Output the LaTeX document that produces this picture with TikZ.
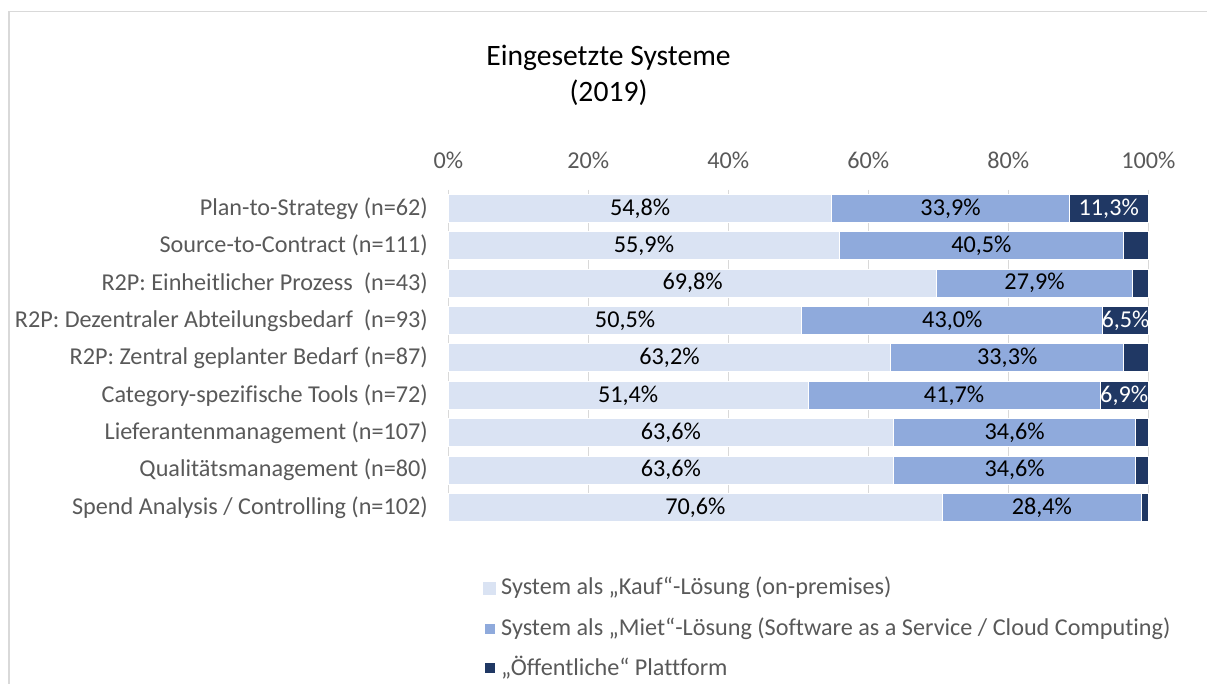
\documentclass[tikz,border=0pt]{standalone}
\usepackage{fontspec}
\setmainfont{Carlito}[Ligatures={TeX,NoCommon}]
\definecolor{cLight}{HTML}{DAE3F3}
\definecolor{cMid}{HTML}{8FAADC}
\definecolor{cDark}{HTML}{203864}
\definecolor{txtgray}{HTML}{595959}
\definecolor{gridgray}{HTML}{D9D9D9}
\newcommand\chartrow[6]{%
  \pgfmathsetmacro\yc{208.3+37.4*#1}%
  \pgfmathsetmacro\xa{448.3+7*#3}%
  \pgfmathsetmacro\xb{\xa+7*#4}%
  \draw[seg, fill=cLight] (448.3,\yc-14) rectangle (\xa,\yc+14);
  \draw[seg, fill=cMid] (\xa,\yc-14) rectangle (\xb,\yc+14);
  \draw[seg, fill=cDark] (\xb,\yc-14) rectangle (1148.3,\yc+14);
  \node[catlab] (cat#1) at (428,\yc) {#2};
  \node[vallab] (va#1) at ({(448.3+\xa)/2},\yc) {#5};
  \node[vallab] (vb#1) at ({(\xa+\xb)/2},\yc) {#6};
}
\begin{document}
\begin{tikzpicture}[x=1pt,y=-1pt,
  seg/.style={draw=white, line width=1pt},
  basefont/.style={font=\fontsize{24.2}{28}\selectfont, inner sep=0pt},
  catlab/.style={basefont, text=txtgray, anchor=east},
  axlab/.style={basefont, text=txtgray},
  vallab/.style={basefont, text=black},
  vallabw/.style={basefont, text=white},
  legsq/.style={inner sep=0pt, minimum size=10pt},
  legtxt/.style={basefont, text=txtgray, anchor=west},
  gridline/.style={draw=gridgray, line width=1.2pt}]
\useasboundingbox (0,0) rectangle (1207,684);
% frame
\draw[draw=gridgray, line width=1.5pt] (9,684) -- (9,11.5) -- (1207,11.5);
% title
\node[font=\fontsize{29.6}{36}\selectfont, align=center, text=black, inner sep=0pt] (title) at (608.5,75) {Eingesetzte Systeme\\(2019)};
% grid and axis labels
\foreach \k/\t in {0/0\%,1/20\%,2/40\%,3/60\%,4/80\%,5/100\%}{
  \coordinate (gt\k) at (448.3+140*\k,190);
  \coordinate (gb\k) at (448.3+140*\k,522);
  \draw[gridline] (gt\k) -- (gb\k);
  \node[axlab] (ax\k) at (448.3+140*\k,160) {\t};
}
% bars
\chartrow{0}{Plan-to-Strategy (n=62)}{54.8}{33.9}{54,8\%}{33,9\%}
\chartrow{1}{Source-to-Contract (n=111)}{55.9}{40.5}{55,9\%}{40,5\%}
\chartrow{2}{R2P: Einheitlicher Prozess\ \ (n=43)}{69.8}{27.9}{69,8\%}{27,9\%}
\chartrow{3}{R2P: Dezentraler Abteilungsbedarf\ \ (n=93)}{50.5}{43.0}{50,5\%}{43,0\%}
\chartrow{4}{R2P: Zentral geplanter Bedarf (n=87)}{63.2}{33.3}{63,2\%}{33,3\%}
\chartrow{5}{Category-spezifische Tools (n=72)}{51.4}{41.7}{51,4\%}{41,7\%}
\chartrow{6}{Lieferantenmanagement (n=107)}{63.6}{34.6}{63,6\%}{34,6\%}
\chartrow{7}{Qualitätsmanagement (n=80)}{63.6}{34.6}{63,6\%}{34,6\%}
\chartrow{8}{Spend Analysis / Controlling (n=102)}{70.6}{28.4}{70,6\%}{28,4\%}
% dark segment labels
\node[vallabw] (vc0) at ({1148.3-7*11.3/2},208.3) {11,3\%};
\node[vallabw] (vc3) at ({1148.3-7*6.5/2},{208.3+37.4*3}) {6,5\%};
\node[vallabw] (vc5) at ({1148.3-7*6.9/2},{208.3+37.4*5}) {6,9\%};
% legend
\node[legsq, fill=cLight, minimum size=13pt] (lq1) at (489,588) {};
\node[legtxt] (lt1) at (501,588) {System als „Kauf“-Lösung (on-premises)};
\node[legsq, fill=cMid] (lq2) at (489.5,629) {};
\node[legtxt] (lt2) at (501,629) {System als „Miet“-Lösung (Software as a Service / Cloud Computing)};
\node[legsq, fill=cDark] (lq3) at (489.5,668) {};
\node[legtxt] (lt3) at (501,668) {„Öffentliche“ Plattform};
\end{tikzpicture}
\end{document}
